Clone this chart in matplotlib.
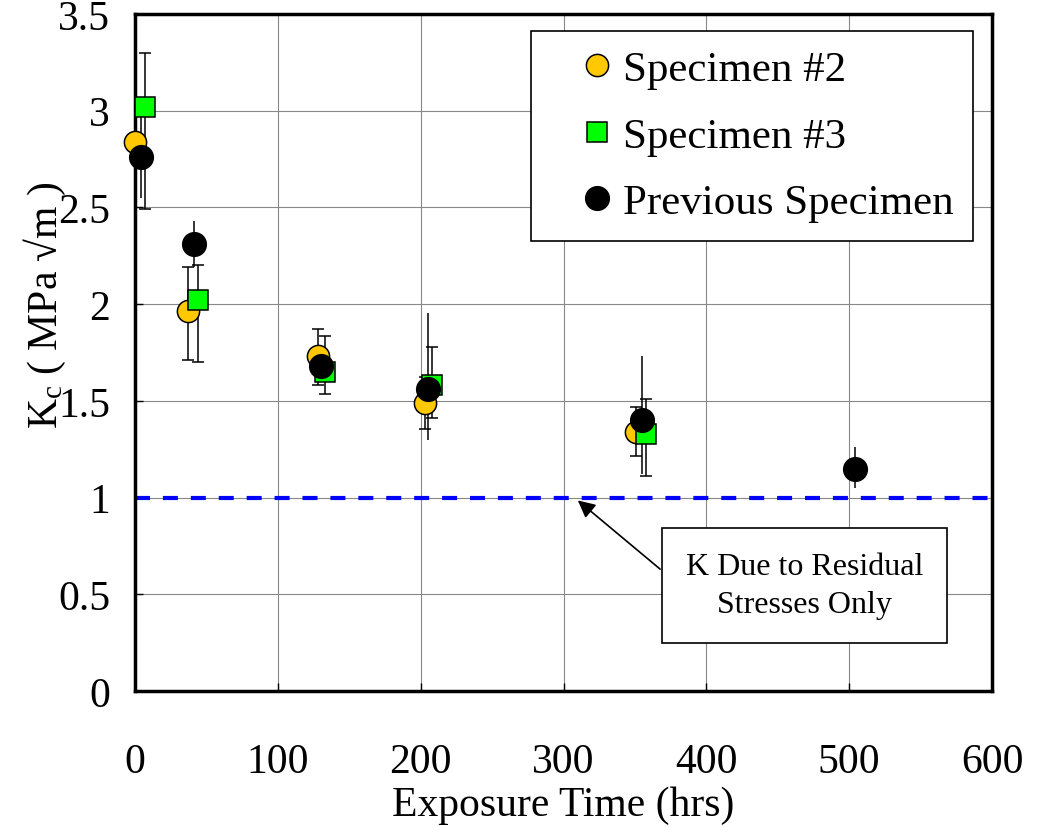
import matplotlib
matplotlib.use("Agg")
import matplotlib.pyplot as plt
import numpy as np

plt.rcParams['font.family'] = ['Liberation Serif', 'DejaVu Serif']
plt.rcParams['mathtext.fontset'] = 'custom'
plt.rcParams['mathtext.rm'] = 'Liberation Serif'
plt.rcParams['mathtext.it'] = 'Liberation Serif:italic'

# Specimen #2
s2_x = [0, 37, 128, 203, 351]
s2_y = [2.84, 1.965, 1.73, 1.49, 1.34]
s2_lo = [2.84, 1.71, 1.58, 1.355, 1.215]
s2_hi = [2.84, 2.19, 1.87, 1.625, 1.47]

# Specimen #3
s3_x = [7, 44, 133, 208, 358]
s3_y = [3.02, 2.02, 1.65, 1.58, 1.33]
s3_lo = [2.49, 1.70, 1.535, 1.41, 1.11]
s3_hi = [3.30, 2.20, 1.835, 1.78, 1.51]

# Previous specimen
pv_x = [4, 41, 130, 205, 355, 504]
pv_y = [2.76, 2.31, 1.68, 1.56, 1.40, 1.15]
pv_lo = [2.55, 2.19, 1.64, 1.30, 1.12, 1.05]
pv_hi = [2.97, 2.43, 1.72, 1.955, 1.73, 1.26]

residual_k = 1.0
xticks = [0, 100, 200, 300, 400, 500, 600]
yticks = [0, 0.5, 1, 1.5, 2, 2.5, 3, 3.5]
ytick_labels = ['0', '0.5', '1', '1.5', '2', '2.5', '3', '3.5']


def yerr(y, lo, hi):
    y = np.array(y)
    return [y - np.array(lo), np.array(hi) - y]


fig = plt.figure(figsize=(10.41, 8.28), dpi=100)
ax = fig.add_axes([0.1297, 0.1643, 0.8233, 0.8176])

ax.grid(True, color='#888888', linewidth=0.8, zorder=0)
ax.set_axisbelow(True)

ax.axhline(residual_k, color='#0000ff', linewidth=3, dashes=(3.6, 3.1), zorder=2)

# error bars first so markers sit on top
ax.errorbar(s2_x, s2_y, yerr=yerr(s2_y, s2_lo, s2_hi), fmt='none', ecolor='black',
            elinewidth=1.1, capsize=4, capthick=1.1, zorder=3)
ax.errorbar(s3_x, s3_y, yerr=yerr(s3_y, s3_lo, s3_hi), fmt='none', ecolor='black',
            elinewidth=1.1, capsize=4, capthick=1.1, zorder=3)
ax.errorbar(pv_x, pv_y, yerr=yerr(pv_y, pv_lo, pv_hi), fmt='none', ecolor='black',
            elinewidth=1.1, capsize=0, zorder=3)

ax.plot(s2_x, s2_y, 'o', ms=16, mfc='#ffc800', mec='black', mew=1.1,
        label='Specimen #2', zorder=4, clip_on=False)
ax.plot(s3_x, s3_y, 's', ms=15, mfc='#00ff00', mec='black', mew=1.1,
        label='Specimen #3', zorder=5, clip_on=False)
ax.plot(pv_x, pv_y, 'o', ms=17, mfc='black', mec='black', mew=1.1,
        label='Previous Specimen', zorder=6, clip_on=False)

ax.set_xlim(0, 600)
ax.set_ylim(0, 3.5)
ax.set_xticks(xticks)
ax.set_yticks(yticks)
ax.set_yticklabels(ytick_labels)
ax.tick_params(axis='both', direction='in', length=6, width=1, labelsize=30)
ax.tick_params(axis='x', pad=37)
ax.tick_params(axis='y', pad=18)
for sp in ax.spines.values():
    sp.set_linewidth(2.5)

ax.set_xlabel('Exposure Time (hrs)', fontsize=30, labelpad=3)
ax.text(-0.105, 0.572, r'K$_\mathrm{c}$ ( MPa √m )', transform=ax.transAxes,
        rotation=90, ha='center', va='center', fontsize=30)

leg = ax.legend(loc='upper right', bbox_to_anchor=(0.978, 0.975), fontsize=31,
                frameon=True, fancybox=False, edgecolor='black', framealpha=1,
                handlelength=2.2, handletextpad=-0.5, labelspacing=0.63,
                borderpad=0.45, borderaxespad=0)
leg.get_frame().set_linewidth(1.2)
leg.set_zorder(10)

# annotation box and arrow
ax.annotate('', xy=(310, 0.985), xytext=(367.6, 0.63),
            arrowprops=dict(arrowstyle='-|>', color='black', lw=1.2,
                            mutation_scale=26, shrinkA=0, shrinkB=0), zorder=8)
ax.text(468.5, 0.545, 'K Due to Residual\nStresses Only', ha='center', va='center',
        fontsize=23, linespacing=1.4, zorder=9,
        bbox=dict(boxstyle='square,pad=0.75', fc='white', ec='black', lw=1.2))

fig.savefig('out.png', dpi=100)
